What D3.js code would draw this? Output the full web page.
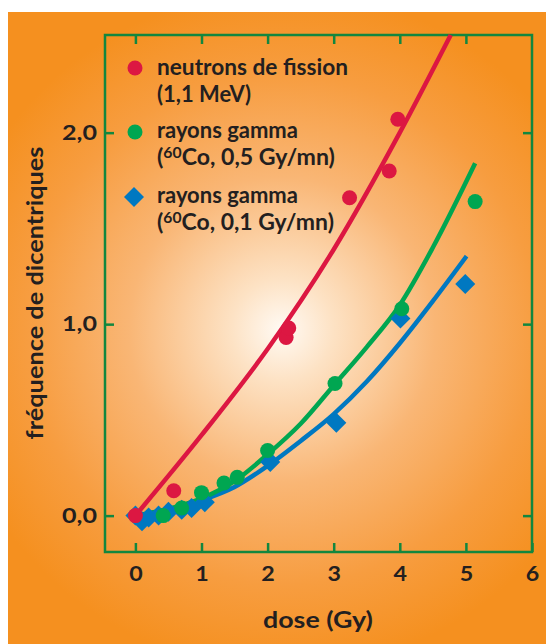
<!DOCTYPE html>
<html lang="fr">
<head>
<meta charset="UTF-8">
<title>Fréquence de dicentriques</title>
<script src="https://d3js.org/d3.v7.min.js"></script>
<style>
  body { margin: 0; background: #fff; }
  svg text { font-family: Lato, "Open Sans", sans-serif; font-weight: 700; fill: #231f20; }
</style>
</head>
<body>
<div id="chart"></div>
<script>
var neutronPoints = [[0, 0], [0.58, 0.13], [2.28, 0.93], [2.32, 0.98], [3.24, 1.66], [3.84, 1.80], [3.97, 2.07]];
var gamma05Points = [[0.42, 0.0], [0.70, 0.04], [1.0, 0.12], [1.34, 0.17], [1.54, 0.20], [2.0, 0.34], [3.02, 0.69], [4.03, 1.08], [5.14, 1.64]];
var gamma01Points = [[0, 0], [0.1, -0.03], [0.2, -0.01], [0.35, 0.0], [0.5, 0.02], [0.7, 0.03], [0.85, 0.04], [1.05, 0.07], [2.04, 0.28], [3.04, 0.485], [4.01, 1.03], [4.99, 1.21]];

// courbes ajustées, relevées point par point
var neutronCurve = [[0, 0], [1, 0.42], [2, 0.87], [3, 1.39], [4, 2.0], [4.77, 2.51]];
var gamma05Curve = [[0, 0], [0.5, 0.035], [1, 0.09], [1.5, 0.18], [2, 0.32], [2.5, 0.48], [3, 0.68], [3.5, 0.88], [4, 1.1], [4.5, 1.4], [5.14, 1.84]];
var gamma01Curve = [[0, 0], [0.5, 0.03], [1, 0.08], [1.5, 0.15], [2, 0.26], [2.5, 0.39], [3, 0.53], [3.5, 0.7], [4, 0.9], [4.5, 1.12], [5.01, 1.355]];

var xTicks = [0, 1, 2, 3, 4, 5, 6];
var yTicks = [0, 1, 2];
var yTickLabels = ["0,0", "1,0", "2,0"];

var red = "#dc1742", green = "#00a651", blue = "#0078c1", frameColor = "#12873f";

var W = 546, H = 644;
var svg = d3.select("#chart").append("svg")
    .attr("width", W)
    .attr("height", H);

var defs = svg.append("defs");
var grad = defs.append("radialGradient")
    .attr("id", "bg")
    .attr("gradientUnits", "userSpaceOnUse")
    .attr("cx", 282).attr("cy", 330).attr("r", 340);
grad.append("stop").attr("offset", 0).attr("stop-color", "#fffaf4");
grad.append("stop").attr("offset", 0.15).attr("stop-color", "#fde2c4");
grad.append("stop").attr("offset", 0.45).attr("stop-color", "#f9b675");
grad.append("stop").attr("offset", 0.75).attr("stop-color", "#f79d40");
grad.append("stop").attr("offset", 1).attr("stop-color", "#f5901f");

svg.append("rect")
    .attr("x", 8).attr("y", 12)
    .attr("width", W - 8).attr("height", H - 12)
    .attr("fill", "url(#bg)");

var x = d3.scaleLinear().domain([-0.46, 6]).range([105, 532]);
var y = d3.scaleLinear().domain([-0.19, 2.51]).range([552, 35]);

var x0 = x.range()[0], x1 = x.range()[1], y0 = y.range()[1], y1 = y.range()[0];

// étire un texte horizontalement jusqu'à la largeur voulue (police d'origine plus large)
function fitWidth(t, w, anchorX) {
    var bb = t.node().getBBox();
    var k = w / bb.width;
    var ax = anchorX == null ? bb.x : anchorX;
    var old = t.attr("transform") || "";
    t.attr("transform", "translate(" + ax + ",0) scale(" + k + ",1) translate(" + (-ax) + ",0) " + old);
}

// graduations vers l'intérieur sur les quatre côtés
function styleAxis(g) {
    g.select(".domain").remove();
    g.selectAll(".tick line").attr("stroke", frameColor).attr("stroke-width", 2.5);
    g.selectAll(".tick text").attr("font-size", 21).attr("fill", "#231f20");
}

var xAxisG = svg.append("g")
    .attr("transform", "translate(0," + y1 + ")")
    .call(d3.axisBottom(x).tickValues(xTicks).tickSize(-9).tickPadding(14).tickFormat(d3.format("d")))
    .call(styleAxis);
xAxisG.selectAll(".tick text").each(function() {
    var t = d3.select(this);
    fitWidth(t, 13.5, 0);
});

svg.append("g")
    .attr("transform", "translate(0," + y0 + ")")
    .call(d3.axisTop(x).tickValues(xTicks.slice(0, 6)).tickSize(-9).tickFormat(""))
    .call(styleAxis);

var yAxisG = svg.append("g")
    .attr("transform", "translate(" + x0 + ",0)")
    .call(d3.axisLeft(y).tickValues(yTicks).tickSize(-9).tickPadding(8)
        .tickFormat(function(d, i) { return yTickLabels[i]; }))
    .call(styleAxis);
yAxisG.selectAll(".tick text").each(function() {
    var t = d3.select(this);
    fitWidth(t, 35, -8);
});

svg.append("g")
    .attr("transform", "translate(" + x1 + ",0)")
    .call(d3.axisRight(y).tickValues(yTicks).tickSize(-9).tickFormat(""))
    .call(styleAxis);

svg.append("rect")
    .attr("x", x0).attr("y", y0)
    .attr("width", x1 - x0).attr("height", y1 - y0)
    .attr("fill", "none")
    .attr("stroke", frameColor)
    .attr("stroke-width", 2.5);

// titres des axes
var xTitle = svg.append("text")
    .attr("x", 318).attr("y", 628)
    .attr("text-anchor", "middle")
    .attr("font-size", 22)
    .attr("font-weight", 600)
    .text("dose (Gy)");
fitWidth(xTitle, 110, 318);

var yTitle = svg.append("text")
    .attr("x", -293).attr("y", 43)
    .attr("transform", "rotate(-90)")
    .attr("text-anchor", "middle")
    .attr("font-size", 22)
    .attr("font-weight", 600)
    .text("fréquence de dicentriques");
(function() {
    var bb = yTitle.node().getBBox();
    var k = 293 / bb.width;
    yTitle.attr("transform", "rotate(-90) translate(-293,0) scale(" + k + ",1) translate(293,0)");
})();

var plot = svg.append("g");

var line = d3.line()
    .x(function(d) { return x(d[0]); })
    .y(function(d) { return y(d[1]); })
    .curve(d3.curveMonotoneX);

var series = [
    { curve: gamma01Curve, pts: gamma01Points, color: blue, shape: "diamond" },
    { curve: gamma05Curve, pts: gamma05Points, color: green, shape: "circle" },
    { curve: neutronCurve, pts: neutronPoints, color: red, shape: "circle" }
];

var diamond = d3.symbol().type(d3.symbolSquare).size(200);

series.forEach(function(s) {
    plot.append("path")
        .datum(s.curve)
        .attr("d", line)
        .attr("fill", "none")
        .attr("stroke", s.color)
        .attr("stroke-width", 4.5);
});

series.forEach(function(s) {
    if (s.shape == "circle") {
        plot.selectAll(null)
            .data(s.pts)
            .enter().append("circle")
            .attr("cx", function(d) { return x(d[0]); })
            .attr("cy", function(d) { return y(d[1]); })
            .attr("r", 7.5)
            .attr("fill", s.color);
    } else {
        plot.selectAll(null)
            .data(s.pts)
            .enter().append("path")
            .attr("d", diamond)
            .attr("transform", function(d) { return "translate(" + x(d[0]) + "," + y(d[1]) + ") rotate(45)"; })
            .attr("fill", s.color);
    }
});

// légende
var legend = svg.append("g").attr("font-size", 22);
var legendItems = [
    { color: red, shape: "circle", my: 68, lines: [["neutrons de fission"], ["(1,1 MeV)"]], base: [75, 102], widths: [191, 94] },
    { color: green, shape: "circle", my: 132, lines: [["rayons gamma"], ["(", "60", "Co, 0,5 Gy/mn)"]], base: [138, 165], widths: [141, 178] },
    { color: blue, shape: "diamond", my: 197, lines: [["rayons gamma"], ["(", "60", "Co, 0,1 Gy/mn)"]], base: [203, 230], widths: [141, 177] }
];

legendItems.forEach(function(it) {
    if (it.shape == "circle") {
        legend.append("circle").attr("cx", 135).attr("cy", it.my).attr("r", 7.5).attr("fill", it.color);
    } else {
        legend.append("path").attr("d", diamond)
            .attr("transform", "translate(134," + it.my + ") rotate(45)")
            .attr("fill", it.color);
    }
    it.lines.forEach(function(parts, i) {
        var t = legend.append("text").attr("x", 157).attr("y", it.base[i]);
        if (parts.length == 1) {
            t.text(parts[0]);
        } else {
            t.append("tspan").text(parts[0]);
            t.append("tspan").attr("font-size", 15).attr("dy", -7).text(parts[1]);
            t.append("tspan").attr("dy", 7).text(parts[2]);
        }
        fitWidth(t, it.widths[i], 157);
    });
});
</script>
</body>
</html>
